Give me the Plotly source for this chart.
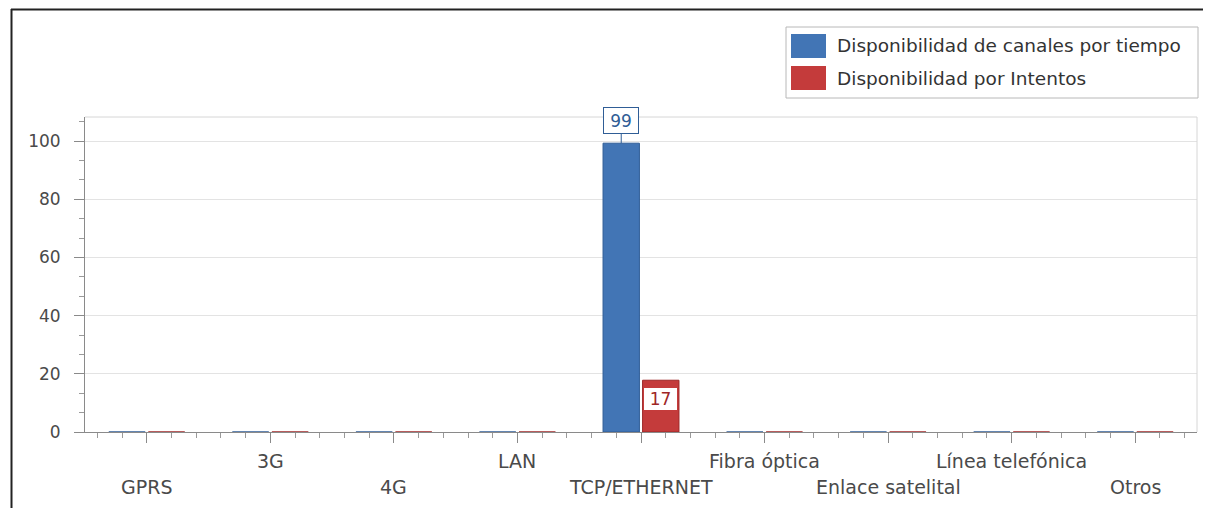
import plotly.graph_objects as go

categories = ["GPRS", "3G", "4G", "LAN", "TCP/ETHERNET", "Fibra óptica",
              "Enlace satelital", "Línea telefónica", "Otros"]
series_names = ["Disponibilidad de canales por tiempo", "Disponibilidad por Intentos"]
tiempo = [0, 0, 0, 0, 99.3, 0, 0, 0, 0]
intentos = [0, 0, 0, 0, 17.8, 0, 0, 0, 0]
tiempo_labels = ["", "", "", "", "99", "", "", "", ""]
intentos_labels = ["", "", "", "", "17", "", "", "", ""]
y_ticks = [0, 20, 40, 60, 80, 100]

# page has an 8px body margin, so the figure is placed at (8, 8)
OFF = 8
W, H = 1211 - OFF, 508 - OFF
L, R, T, B = 85 - OFF, 14, 117 - OFF, 76
PW, PH = W - L - R, H - T - B

def px(x):
    """reference-window x pixel -> paper"""
    return (x - OFF - L) / PW

def py(y):
    """reference-window y pixel -> paper"""
    return (H - B - (y - OFF)) / PH

BLUE = "#4275b5"
BLUE_D = "#2f5d96"
RED = "#c43b3b"
RED_D = "#9e2626"
FONT = "DejaVu Sans"
TXT = "#4a4a4a"

xs = list(range(len(categories)))
fig = go.Figure()
fig.add_bar(x=xs, y=tiempo, name=series_names[0], marker_color=BLUE,
            marker_line_color=BLUE_D, marker_line_width=1, showlegend=False)
fig.add_bar(x=xs, y=intentos, name=series_names[1], marker_color=RED,
            marker_line_color=RED_D, marker_line_width=1, showlegend=False)

annotations = []
off = 0.16
for i, (v, lab) in enumerate(zip(tiempo, tiempo_labels)):
    if lab:
        annotations.append(dict(x=i - off, y=v, xref="x", yref="y", text=lab,
                                showarrow=True, arrowhead=0, arrowwidth=1,
                                arrowcolor=BLUE_D, ax=0, ay=-23,
                                width=32, height=23,
                                font=dict(family=FONT, size=17, color=BLUE_D),
                                bgcolor="white", bordercolor=BLUE_D, borderwidth=1,
                                borderpad=1))
for i, (v, lab) in enumerate(zip(intentos, intentos_labels)):
    if lab:
        annotations.append(dict(x=i + off, y=v, xref="x", yref="y", text=lab,
                                showarrow=False, yanchor="top", yshift=-7,
                                width=31, height=20,
                                font=dict(family=FONT, size=17, color=RED_D),
                                bgcolor="white", bordercolor=RED, borderwidth=1,
                                borderpad=1))

# staggered category labels
for i, c in enumerate(categories):
    upper = (i % 2 == 1)
    annotations.append(dict(x=i, y=py(461 if upper else 487), xref="x", yref="paper",
                            text=c, showarrow=False, yanchor="middle",
                            font=dict(family=FONT, size=19, color=TXT)))

# legend (drawn)
shapes = []
leg_items = [(series_names[0], BLUE, 46), (series_names[1], RED, 78)]
shapes.append(dict(type="rect", xref="paper", yref="paper", x0=px(786), x1=px(1198),
                   y0=py(98), y1=py(27), line=dict(color="#b8b8b8", width=1),
                   fillcolor="white"))
for name, col, yc in leg_items:
    shapes.append(dict(type="rect", xref="paper", yref="paper", x0=px(791), x1=px(826),
                       y0=py(yc + 12), y1=py(yc - 12), line=dict(width=0),
                       fillcolor=col))
    annotations.append(dict(x=px(835), y=py(yc), xref="paper", yref="paper", text=name,
                            showarrow=False, xanchor="left", yanchor="middle",
                            font=dict(family=FONT, size=18.5, color="#333333")))

# outer frame (top and left)
shapes.append(dict(type="line", xref="paper", yref="paper", x0=px(11), x1=px(1211),
                   y0=py(9.5), y1=py(9.5), line=dict(color="#222222", width=2)))
shapes.append(dict(type="line", xref="paper", yref="paper", x0=px(11.5), x1=px(11.5),
                   y0=py(9), y1=py(508), line=dict(color="#222222", width=2)))

fig.update_layout(
    width=W, height=H,
    margin=dict(l=L, r=R, t=T, b=B),
    paper_bgcolor="white", plot_bgcolor="white",
    barmode="group", bargap=0.36, bargroupgap=0.08,
    annotations=annotations, shapes=shapes,
    font=dict(family=FONT, size=15, color=TXT),
    xaxis=dict(range=[-0.5, len(categories) - 0.5], tickvals=xs,
               ticktext=["" for _ in categories], showgrid=False,
               showline=True, linecolor="#8a8a8a", linewidth=1, mirror=False,
               ticks="outside", ticklen=10, tickcolor="#8a8a8a",
               minor=dict(dtick=0.2, ticks="outside", ticklen=5, tickcolor="#9a9a9a"),
               zeroline=False, fixedrange=True),
    yaxis=dict(range=[0, 108.3], tickvals=y_ticks, showgrid=True,
               gridcolor="#e3e3e3", gridwidth=1,
               showline=True, linecolor="#8a8a8a", linewidth=1,
               ticks="outside", ticklen=10, tickcolor="#8a8a8a",
               minor=dict(dtick=20 / 3, ticks="outside", ticklen=5, tickcolor="#9a9a9a",
                          showgrid=False),
               ticklabelstandoff=10,
               tickfont=dict(family=FONT, size=17, color=TXT),
               zeroline=False, fixedrange=True),
)
# light plot frame (top and right)
fig.add_shape(type="line", xref="paper", yref="paper", x0=0, x1=1, y0=1, y1=1,
              line=dict(color="#d6d6d6", width=1))
fig.add_shape(type="line", xref="paper", yref="paper", x0=1, x1=1, y0=0, y1=1,
              line=dict(color="#d6d6d6", width=1))

fig.write_html("out.html")
